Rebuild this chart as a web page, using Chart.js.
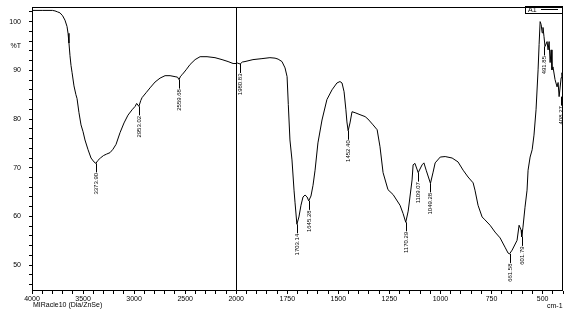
<!DOCTYPE html>
<html>
<head>
<meta charset="utf-8">
<script src="https://cdn.jsdelivr.net/npm/chart.js@4.4.0/dist/chart.umd.min.js"></script>
<style>
  html, body { margin: 0; padding: 0; background: #fff; }
  #grafico { display: block; }
</style>
</head>
<body>
<canvas id="grafico" width="574" height="314"></canvas>
<script>
// espectro (cm-1 y %T)
const numerosOnda = [
    4000, 3900, 3800, 3775, 3750, 3726, 3700, 3677, 3657, 3647, 3638, 3628, 3618, 3608, 3589, 3570, 3559, 3540,
    3520, 3500, 3481, 3451, 3422, 3393, 3374, 3355, 3330, 3300, 3270, 3236, 3207, 3177, 3138, 3099,
    3060, 3020, 2990, 2975, 2953, 2935, 2922, 2883, 2844, 2795, 2746, 2697, 2648, 2599, 2575, 2560,
    2545, 2530, 2491, 2452, 2403, 2354, 2286, 2208, 2139, 2080, 2031, 2000, 1995, 1981, 1970, 1957,
    1918, 1874, 1835, 1810, 1795, 1776, 1761, 1751, 1745, 1737, 1727, 1717, 1712, 1703, 1693, 1683,
    1673, 1663, 1653, 1645, 1634, 1624, 1614, 1600, 1580, 1556, 1531, 1507, 1492, 1482, 1472, 1463,
    1458, 1452, 1443, 1433, 1418, 1394, 1369, 1355, 1330, 1310, 1296, 1281, 1257, 1232, 1198, 1183,
    1170, 1158, 1139, 1134, 1125, 1109, 1090, 1081, 1070, 1049, 1036, 1026, 1001, 977, 943, 914,
    889, 865, 840, 831, 816, 796, 782, 757, 733, 708, 684, 669, 662, 649, 625, 615,
    605, 602, 596, 586, 576, 571, 561, 551, 542, 532, 522, 517, 512, 507, 502, 498,
    493, 488, 478, 473, 468, 463, 458, 454, 449, 439, 429, 424, 419, 409, 405, 400
];
const transmitancia = [
    102.3, 102.3, 102.3, 102.2, 102.0, 101.8, 101.2, 100.3, 99.0, 97.6, 95.6, 93.0, 91.0, 89.6, 86.8, 85.0, 84.2, 81.3,
    78.8, 77.4, 75.7, 73.7, 72.0, 71.2, 70.9, 71.5, 72.0, 72.5, 72.8, 73.1, 73.8, 74.8, 77.2, 79.2,
    80.8, 81.9, 82.6, 83.2, 82.6, 83.8, 84.4, 85.4, 86.4, 87.6, 88.4, 88.9, 88.9, 88.7, 88.6, 88.1,
    88.8, 89.1, 90.1, 91.2, 92.2, 92.8, 92.8, 92.6, 92.2, 91.8, 91.4, 91.4, 91.5, 91.3, 91.7, 91.8,
    92.2, 92.4, 92.6, 92.5, 92.3, 91.8, 90.5, 88.7, 83.0, 75.7, 71.6, 65.4, 62.8, 58.4, 59.9, 62.3,
    64.0, 64.4, 64.0, 63.2, 64.2, 66.4, 69.5, 75.1, 79.8, 84.0, 86.0, 87.4, 87.7, 87.4, 85.6, 81.9,
    79.4, 77.6, 79.2, 81.5, 81.3, 80.9, 80.5, 80.0, 78.8, 77.8, 74.3, 69.0, 65.5, 64.5, 62.3, 60.6,
    58.8, 61.1, 67.5, 70.6, 70.9, 69.0, 70.6, 71.0, 69.5, 66.8, 69.1, 71.0, 72.2, 72.3, 72.0, 71.2,
    69.5, 68.1, 66.9, 65.4, 62.3, 59.9, 59.3, 58.2, 56.8, 55.6, 53.7, 52.5, 52.3, 53.1, 55.1, 58.2,
    57.2, 55.8, 57.8, 61.9, 65.4, 69.5, 72.2, 73.7, 76.7, 81.9, 90.1, 95.3, 100.0, 99.4, 97.7, 98.8,
    96.9, 94.9, 95.9, 94.2, 95.9, 91.6, 94.2, 90.1, 90.7, 88.1, 86.6, 87.5, 84.6, 88.5, 89.5, 86.6
];

// picos marcados
const picos = [3373.90, 2953.02, 2559.68, 1980.83, 1703.14, 1645.28, 1452.40, 1170.29, 1109.07, 1049.28, 661.58, 601.79, 491.85, 408.27];
const picosT = [70.9, 82.6, 88.1, 91.3, 58.4, 63.2, 77.6, 58.8, 69.0, 66.8, 52.3, 55.8, 94.9, 84.6];

const etiquetasX = [4000, 3500, 3000, 2500, 2000, 1750, 1500, 1250, 1000, 750, 500];
const etiquetasY = [100, 90, 80, 70, 60, 50];

// por debajo de 2000 cm-1 el eje va al doble de escala
function aEje(cm) { return cm <= 2000 ? cm : 2000 + (cm - 2000) / 2; }
function deEje(u) { return u <= 2000 ? u : 2000 + (u - 2000) * 2; }

const fuente = 'Liberation Sans, Arial, sans-serif';

const marco = {
    id: 'marco',
    afterDraw(chart) {
        const ctx = chart.ctx;
        const a = chart.chartArea;
        const xs = chart.scales.x;
        const ys = chart.scales.y;
        ctx.save();
        ctx.strokeStyle = '#000';
        ctx.lineWidth = 1;
        const l = Math.round(a.left) + 0.5, t = Math.round(a.top) + 0.5;
        const r = Math.round(a.right) - 0.5, b = Math.round(a.bottom) - 0.5;
        ctx.strokeRect(l, t, r - l, b - t);

        // linea del cambio de escala en 2000
        const x2000 = Math.round(xs.getPixelForValue(aEje(2000))) + 0.5;
        ctx.beginPath();
        ctx.moveTo(x2000, t);
        ctx.lineTo(x2000, b);
        ctx.stroke();

        // etiquetas de picos
        ctx.fillStyle = '#000';
        ctx.font = '6px ' + fuente;
        picos.forEach((p, i) => {
            const x = Math.round(xs.getPixelForValue(aEje(p))) + 0.5;
            const y = ys.getPixelForValue(picosT[i]);
            ctx.beginPath();
            ctx.moveTo(x, y);
            ctx.lineTo(x, y + 9);
            ctx.stroke();
            ctx.save();
            ctx.translate(x, y + 9.5);
            ctx.rotate(-Math.PI / 2);
            ctx.textAlign = 'right';
            ctx.textBaseline = 'middle';
            ctx.fillText(p.toFixed(2), 0, 0);
            ctx.restore();
        });

        // leyenda
        ctx.strokeRect(525.5, t - 1, 37, 7);
        ctx.font = '7px ' + fuente;
        ctx.textAlign = 'left';
        ctx.textBaseline = 'middle';
        ctx.fillText('A1', 528, t + 2.5);
        ctx.beginPath();
        ctx.moveTo(541, t + 2);
        ctx.lineTo(558, t + 2);
        ctx.stroke();

        // textos bajo el eje
        ctx.fillText('MIRacle10 (Dia/ZnSe)', 33, 305);
        ctx.fillText('cm-1', 547, 306);
        ctx.restore();
    }
};

const data = {
    datasets: [{
        data: numerosOnda.map((cm, i) => ({ x: aEje(cm), y: transmitancia[i] })),
        borderColor: '#000',
        borderWidth: 1,
        pointRadius: 0,
        tension: 0,
        fill: false
    }]
};

const config = {
    type: 'line',
    data: data,
    options: {
        responsive: false,
        animation: false,
        devicePixelRatio: 1,
        layout: { padding: { top: 7, right: 11, left: 0, bottom: 0 } },
        plugins: { legend: { display: false }, tooltip: { enabled: false } },
        scales: {
            x: {
                type: 'linear',
                reverse: true,
                min: 400,
                max: 3000,
                afterBuildTicks: s => {
                    s.ticks = [];
                    for (let u = 400; u <= 3000; u += 50) s.ticks.push({ value: u });
                },
                afterFit: s => { s.height = 23; s.paddingLeft = 0; s.paddingRight = 0; },
                border: { display: false },
                grid: { drawOnChartArea: false, tickLength: 3, tickColor: '#000' },
                ticks: {
                    autoSkip: false,
                    maxRotation: 0,
                    padding: 1,
                    color: '#000',
                    font: { family: fuente, size: 7 },
                    callback: v => {
                        const cm = Math.round(deEje(v));
                        return etiquetasX.includes(cm) ? String(cm) : '';
                    }
                }
            },
            y: {
                min: 44.7,
                max: 103,
                afterBuildTicks: s => {
                    s.ticks = [];
                    for (let v = 46; v <= 102; v += 2) s.ticks.push({ value: v });
                    s.ticks.push({ value: 95 });
                },
                afterFit: s => { s.width = 32; s.paddingTop = 0; s.paddingBottom = 0; },
                border: { display: false },
                grid: {
                    drawOnChartArea: false,
                    tickLength: 3,
                    tickColor: c => (c.tick && c.tick.value === 95) ? 'rgba(0,0,0,0)' : '#000'
                },
                ticks: {
                    autoSkip: false,
                    padding: 8,
                    color: '#000',
                    font: { family: fuente, size: 7 },
                    callback: v => {
                        if (v === 95) return '%T';
                        return etiquetasY.includes(v) ? String(v) : '';
                    }
                }
            }
        }
    },
    plugins: [marco]
};

const ctx = document.getElementById('grafico').getContext('2d');
new Chart(ctx, config);
</script>
</body>
</html>
